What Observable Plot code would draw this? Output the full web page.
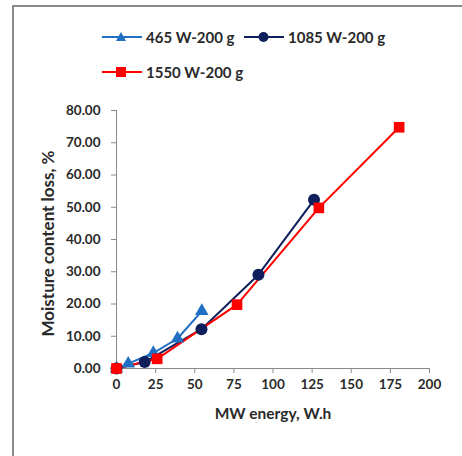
<!DOCTYPE html>
<html>
<head>
<meta charset="utf-8">
<script src="https://cdn.jsdelivr.net/npm/d3@7"></script>
<script src="https://cdn.jsdelivr.net/npm/@observablehq/plot@0.6"></script>
<style>
  html, body { margin: 0; padding: 0; background: #fff; }
  body { width: 462px; height: 456px; overflow: hidden; position: relative; font-family: Lato, "Open Sans", sans-serif; }
  #frame { position: absolute; left: 12px; top: 5px; width: 470px; height: 470px; border-left: 2px solid #8a8a8a; border-top: 2px solid #8a8a8a; box-sizing: border-box; pointer-events: none; }
  #legend { position: relative; height: 90px; width: 462px; }
  .item { position: absolute; display: flex; align-items: center; font-weight: bold; font-size: 15px; color: #2a2a2a; white-space: nowrap; }
  .item svg { margin-right: 4px; }
  #chart { position: relative; }
</style>
</head>
<body>
<div id="frame"></div>
<div id="legend"></div>
<div id="chart"></div>
<script>
// Series names
const seriesNames = ["465 W-200 g", "1085 W-200 g", "1550 W-200 g"];
const seriesColors = ["#1f6fc2", "#0e1f5b", "#ff0000"];
const seriesSymbols = ["triangle", "circle", "square"];

// 465 W-200 g
const x465 = [0, 7.5, 23.5, 39, 54.5];
const y465 = [0, 1.5, 4.8, 9.3, 17.8];
// 1085 W-200 g
const x1085 = [0, 18, 54.3, 90.7, 126.2];
const y1085 = [0, 2.0, 12.2, 29.1, 52.3];
// 1550 W-200 g
const x1550 = [0, 26, 77, 129.3, 180.6];
const y1550 = [0, 3.0, 19.8, 49.8, 74.8];

const xTicks = [0, 25, 50, 75, 100, 125, 150, 175, 200];
const yTicks = [0, 10, 20, 30, 40, 50, 60, 70, 80];
const xTitle = "MW energy, W.h";
const yTitle = "Moisture content loss, %";

const xs = [x465, x1085, x1550];
const ys = [y465, y1085, y1550];
const data = [];
seriesNames.forEach((s, i) => xs[i].forEach((x, j) => data.push({series: s, x, y: ys[i][j]})));

// Legend (HTML)
const legendPos = [[102, 37], [244, 37], [102, 72]];
const legend = document.getElementById("legend");
seriesNames.forEach((s, i) => {
  const div = document.createElement("div");
  div.className = "item";
  div.style.left = legendPos[i][0] + "px";
  div.style.top = (legendPos[i][1] - 10) + "px";
  const c = seriesColors[i];
  let sym;
  if (seriesSymbols[i] === "triangle") sym = `<path d="M19,5 L24,14 L14,14 Z" fill="${c}"/>`;
  else if (seriesSymbols[i] === "circle") sym = `<circle cx="19.5" cy="10" r="5" fill="${c}"/>`;
  else sym = `<rect x="14" y="5" width="10" height="10" fill="${c}"/>`;
  const w = 40;
  div.innerHTML = `<svg width="${w}" height="20"><line x1="0" x2="${w}" y1="10" y2="10" stroke="${c}" stroke-width="2"/>${sym}</svg><span>${s}</span>`;
  legend.appendChild(div);
});

const font = "Lato, 'Open Sans', sans-serif";
const chart = Plot.plot({
  width: 462,
  height: 366,
  marginLeft: 116,
  marginRight: 33,
  marginTop: 20,
  marginBottom: 88,
  style: {fontFamily: font, fontSize: "13.5px", fontWeight: "bold", color: "#2a2a2a", background: "transparent", overflow: "visible"},
  x: {domain: [0, 200]},
  y: {domain: [0, 80]},
  color: {domain: seriesNames, range: seriesColors},
  symbol: {domain: seriesNames, range: seriesSymbols},
  marks: [
    Plot.axisX({ticks: xTicks, tickSize: 5, tickPadding: 6, stroke: "#8a8a8a", label: null}),
    Plot.axisY({ticks: yTicks, tickSize: 5, tickPadding: 11, stroke: "#8a8a8a", tickFormat: d3.format(".2f"), label: null}),
    Plot.ruleY([0], {stroke: "#8a8a8a"}),
    Plot.ruleX([0], {stroke: "#8a8a8a"}),
    Plot.line(data, {x: "x", y: "y", z: "series", stroke: "series", strokeWidth: 2}),
    Plot.dot(data.filter(d => d.series === seriesNames[0]), {x: "x", y: "y", symbol: "series", fill: "series", r: 5}),
    Plot.dot(data.filter(d => d.series === seriesNames[1]), {x: "x", y: "y", symbol: "series", fill: "series", r: 6}),
    Plot.dot(data.filter(d => d.series === seriesNames[2]), {x: "x", y: "y", symbol: "series", fill: "series", r: 6}),
    Plot.text([xTitle], {frameAnchor: "bottom", dy: 50, textAnchor: "middle", fontSize: 15.5, fontWeight: "bold"}),
    Plot.text([yTitle], {frameAnchor: "left", dx: -68, dy: 4, textAnchor: "middle", rotate: -90, fontSize: 17, fontWeight: "bold"})
  ]
});
document.getElementById("chart").appendChild(chart);
</script>
</body>
</html>
